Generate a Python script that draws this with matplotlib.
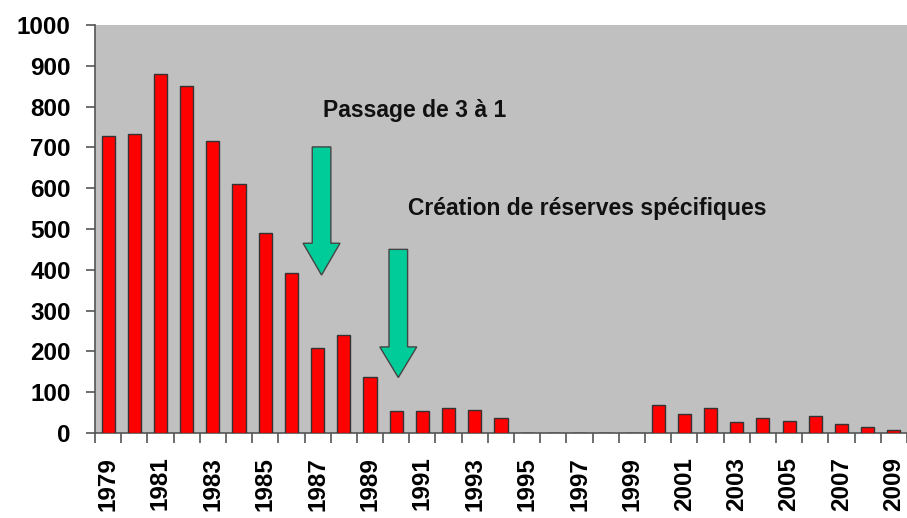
import numpy as np
import matplotlib.pyplot as plt
from matplotlib.patches import FancyArrow

plt.rcParams['font.family'] = ['Liberation Sans', 'DejaVu Sans']

# Data
years = list(range(1979, 2010))
counts = [727, 733, 879, 849, 715, 610, 489, 392, 208, 239, 137, 54, 54, 62,
          57, 37, 0, 0, 0, 0, 0, 68, 47, 62, 27, 38, 30, 42, 21, 16, 7]

fig = plt.figure(figsize=(9.07, 5.18), dpi=100)
ax = fig.add_axes([0.1047, 0.164, 0.8953, 0.788])
ax.set_facecolor('#c0c0c0')

x = np.arange(len(years))
ax.bar(x, counts, width=0.5, color='#ff0000', edgecolor='#333333', linewidth=1, zorder=3)

ax.set_xlim(-0.5, len(years) - 0.5)
ax.set_ylim(0, 1000)

# y axis
ax.set_yticks(range(0, 1001, 100))
ax.tick_params(axis='y', direction='out', length=6.5, width=1.2, color='#555555',
               labelsize=17.5, pad=11)
for lab in ax.get_yticklabels():
    lab.set_fontweight('bold')

# x axis: tick marks between categories, labels every other year
ax.set_xticks(np.arange(-0.5, len(years), 1.0))
ax.set_xticklabels([])
ax.tick_params(axis='x', which='major', direction='out', length=7, width=1.2, color='#555555')
ax.set_xticks(x[::2], minor=True)
ax.set_xticklabels([str(y) for y in years[::2]], minor=True, rotation=90,
                   fontsize=17.5, fontweight='bold')
ax.tick_params(axis='x', which='minor', length=0, pad=17)

for s in ['top', 'right']:
    ax.spines[s].set_visible(False)
for s in ['left', 'bottom']:
    ax.spines[s].set_color('#555555')
    ax.spines[s].set_linewidth(1.2)

# green arrows
arrow_color = '#00cc99'
ax.add_patch(FancyArrow(8.15, 701, 0, -314, width=0.71, head_width=1.41,
                        head_length=78, length_includes_head=True,
                        facecolor=arrow_color, edgecolor='#444444', linewidth=1, zorder=4))
ax.add_patch(FancyArrow(11.08, 450, 0, -314, width=0.71, head_width=1.41,
                        head_length=75, length_includes_head=True,
                        facecolor=arrow_color, edgecolor='#444444', linewidth=1, zorder=4))

ax.text(8.2, 775, 'Passage de 3 à 1', fontsize=16.5, fontweight='bold',
        va='baseline', ha='left', color='#111111')
ax.text(11.45, 534, 'Création de réserves spécifiques', fontsize=16.5, fontweight='bold',
        va='baseline', ha='left', color='#111111')

fig.savefig('out.png', dpi=100)
